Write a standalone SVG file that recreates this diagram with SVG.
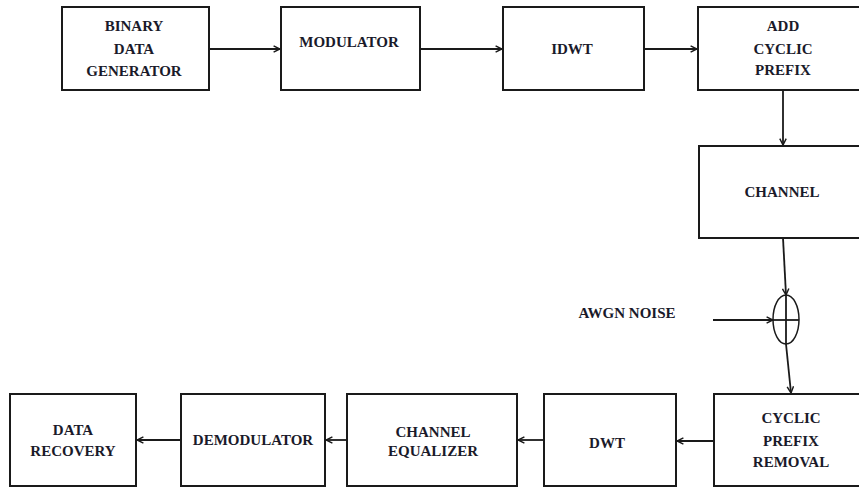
<svg xmlns="http://www.w3.org/2000/svg" width="859" height="488" viewBox="0 0 859 488">
<style>
.box{fill:#fff;stroke:#1a1a1a;stroke-width:2}
.lbl{font-family:"Liberation Serif","Times New Roman",serif;font-weight:bold;font-size:15px;fill:#1a1a2a;text-anchor:middle;dominant-baseline:central}
.ln{fill:none;stroke:#1a1a1a;stroke-width:1.8}
</style>
<defs>
<marker id="ah" viewBox="0 0 10 10" refX="9" refY="5" markerWidth="8" markerHeight="8" markerUnits="userSpaceOnUse" orient="auto">
<path d="M1,1 L9,5 L1,9" fill="none" stroke="#1a1a1a" stroke-width="1.8"/>
</marker>
</defs>
<rect width="859" height="488" fill="#fff"/>
<g id="connectors">
<line class="ln" x1="209" y1="49" x2="280" y2="49" marker-end="url(#ah)"/>
<line class="ln" x1="420" y1="49" x2="502" y2="49" marker-end="url(#ah)"/>
<line class="ln" x1="644" y1="49" x2="697" y2="49" marker-end="url(#ah)"/>
<line class="ln" x1="783" y1="90" x2="783" y2="145" marker-end="url(#ah)"/>
<line class="ln" x1="783" y1="238" x2="786" y2="295" marker-end="url(#ah)"/>
<line class="ln" x1="713" y1="320" x2="773" y2="320" marker-end="url(#ah)"/>
<line class="ln" x1="786" y1="344" x2="791" y2="393" marker-end="url(#ah)"/>
<line class="ln" x1="714" y1="441" x2="677" y2="441" marker-end="url(#ah)"/>
<line class="ln" x1="544" y1="440" x2="518" y2="440" marker-end="url(#ah)"/>
<line class="ln" x1="347" y1="440" x2="326" y2="440" marker-end="url(#ah)"/>
<line class="ln" x1="181" y1="440" x2="137" y2="440" marker-end="url(#ah)"/>
</g>
<g id="sum">
<ellipse cx="786" cy="319.5" rx="13" ry="24.5" fill="none" stroke="#1a1a1a" stroke-width="1.5"/>
<line class="ln" x1="786" y1="295" x2="786" y2="344"/>
<line class="ln" x1="773" y1="320" x2="799" y2="320"/>
</g>
<g id="awgn">
<text class="lbl" x="627" y="313">AWGN NOISE</text>
</g>
<g id="binary">
<rect class="box" x="62" y="7" width="147" height="83"/>
<text class="lbl" x="134" y="26">BINARY</text>
<text class="lbl" x="134" y="49">DATA</text>
<text class="lbl" x="134" y="71">GENERATOR</text>
</g>
<g id="modulator">
<rect class="box" x="281" y="7" width="139" height="83"/>
<text class="lbl" x="349" y="42">MODULATOR</text>
</g>
<g id="idwt">
<rect class="box" x="503" y="7" width="141" height="83"/>
<text class="lbl" x="572" y="49">IDWT</text>
</g>
<g id="addcp">
<rect class="box" x="698" y="7" width="180" height="83"/>
<text class="lbl" x="783" y="26">ADD</text>
<text class="lbl" x="783" y="49">CYCLIC</text>
<text class="lbl" x="783" y="70">PREFIX</text>
</g>
<g id="channel">
<rect class="box" x="699" y="146" width="180" height="92"/>
<text class="lbl" x="782" y="192">CHANNEL</text>
</g>
<g id="cpr">
<rect class="box" x="714" y="394" width="180" height="92"/>
<text class="lbl" x="791" y="418">CYCLIC</text>
<text class="lbl" x="791" y="441">PREFIX</text>
<text class="lbl" x="791" y="462">REMOVAL</text>
</g>
<g id="dwt">
<rect class="box" x="544" y="394" width="132" height="92"/>
<text class="lbl" x="607" y="443">DWT</text>
</g>
<g id="equalizer">
<rect class="box" x="347" y="394" width="170" height="92"/>
<text class="lbl" x="433" y="432">CHANNEL</text>
<text class="lbl" x="433" y="451">EQUALIZER</text>
</g>
<g id="demodulator">
<rect class="box" x="181" y="394" width="144" height="92"/>
<text class="lbl" x="253" y="440">DEMODULATOR</text>
</g>
<g id="recovery">
<rect class="box" x="10" y="394" width="126" height="92"/>
<text class="lbl" x="73" y="430">DATA</text>
<text class="lbl" x="73" y="451">RECOVERY</text>
</g>
</svg>
